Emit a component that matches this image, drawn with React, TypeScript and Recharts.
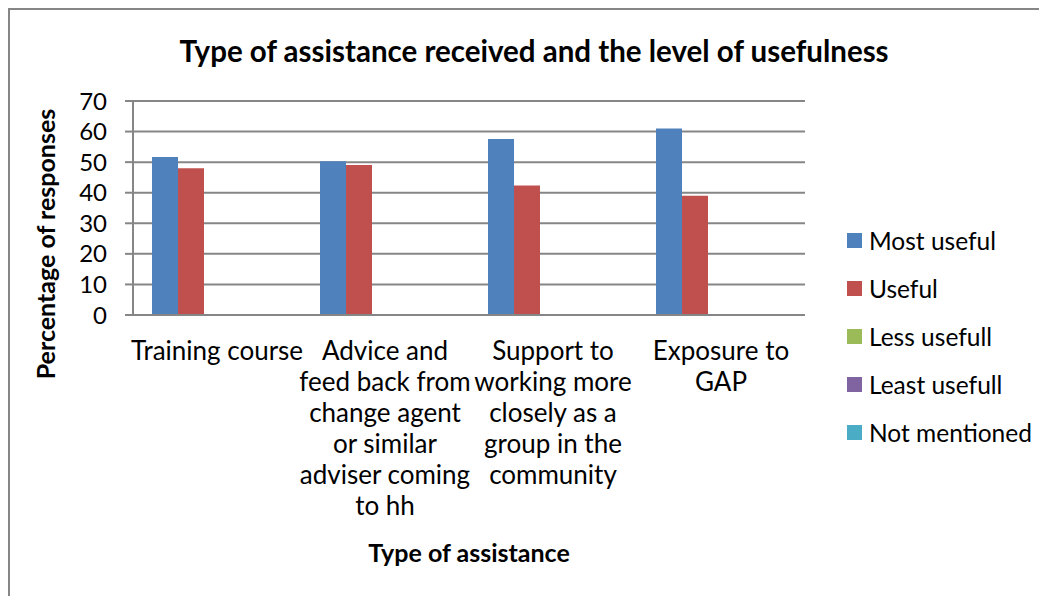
import * as React from 'react';
import {
    BarChart, Bar, XAxis, YAxis, CartesianGrid, Legend, Label,
} from 'recharts';

const FONT = 'Lato, "Open Sans", sans-serif';
const GRID = '#868686';

const categories = [
    'Training course',
    'Advice and feed back from change agent or similar adviser coming to hh',
    'Support to working more closely as a group in the community',
    'Exposure to GAP',
];

// how each category label wraps under the axis
const tickLines = [
    ['Training course'],
    ['Advice and', 'feed back from', 'change agent', 'or similar', 'adviser coming', 'to hh'],
    ['Support to', 'working more', 'closely as a', 'group in the', 'community'],
    ['Exposure to', 'GAP'],
];

const seriesNames = ['Most useful', 'Useful', 'Less usefull', 'Least usefull', 'Not mentioned'];
const seriesColors = ['#4F81BD', '#C0504D', '#9BBB59', '#8064A2', '#4BACC6'];

const mostUseful = [51.7, 50.3, 57.6, 61.0];
const useful = [48.0, 49.1, 42.4, 39.0];
const lessUsefull = [0, 0.3, 0, 0];
const leastUsefull = [0, 0.3, 0, 0];
const notMentioned = [0.3, 0, 0, 0];

const yTicks = [0, 10, 20, 30, 40, 50, 60, 70];

const data = categories.map((name, i) => ({
    name,
    s0: mostUseful[i],
    s1: useful[i],
    s2: lessUsefull[i],
    s3: leastUsefull[i],
    s4: notMentioned[i],
}));

const CategoryTick = (props: any) => {
    const { x, y, index } = props;
    const lines = tickLines[index] || [];
    return (
        <text x={x} y={y} textAnchor='middle' fill='#000' fontSize={26} fontFamily={FONT}>
            {lines.map((l, i) => (
                <tspan key={i} x={x} dy={i === 0 ? 45 : 31}>{l}</tspan>
            ))}
        </text>
    );
};

const LegendBox = () => (
    <div style={{ fontFamily: FONT, fontSize: 24.5, color: '#000' }}>
        {seriesNames.map((n, i) => (
            <div key={n} style={{ display: 'flex', alignItems: 'center', height: 48 }}>
                <span style={{ width: 15, height: 15, background: seriesColors[i], marginRight: 7, display: 'inline-block' }} />
                <span>{n}</span>
            </div>
        ))}
    </div>
);

export default function App() {
    return (
        <div style={{
            width: 1039, height: 588, boxSizing: 'border-box',
            borderTop: `2px solid ${GRID}`, borderLeft: `2px solid ${GRID}`, background: '#fff',
        }}>
            <BarChart
                width={1037}
                height={586}
                data={data}
                margin={{ top: 91, right: 242, left: 0, bottom: 21 }}
                barCategoryGap={19}
                barGap={0}
            >
                <text x={524} y={40} textAnchor='middle' dominantBaseline='central'
                    fontFamily={FONT} fontWeight='bold' fontSize={29.5} fill='#000'>
                    Type of assistance received and the level of usefulness
                </text>
                <CartesianGrid vertical={false} stroke={GRID} strokeWidth={2} />
                <XAxis
                    dataKey='name'
                    height={260}
                    interval={0}
                    tick={<CategoryTick />}
                    tickLine={false}
                    tickSize={0}
                    tickMargin={0}
                    axisLine={{ stroke: GRID, strokeWidth: 2 }}
                >
                    <Label
                        content={() => (
                            <text x={459} y={542} textAnchor='middle' dominantBaseline='central'
                                fontFamily={FONT} fontWeight='bold' fontSize={25} fill='#000'>
                                Type of assistance
                            </text>
                        )}
                    />
                </XAxis>
                <YAxis
                    width={123}
                    domain={[0, 70]}
                    ticks={yTicks}
                    interval={0}
                    tickSize={8}
                    tickMargin={18}
                    tick={{ fontSize: 24, fontFamily: FONT, fill: '#000' }}
                    tickLine={{ stroke: GRID, strokeWidth: 2 }}
                    axisLine={{ stroke: GRID, strokeWidth: 2 }}
                >
                    <Label
                        content={() => (
                            <text x={35} y={234} textAnchor='middle' dominantBaseline='central'
                                transform='rotate(-90 35 234)'
                                fontFamily={FONT} fontWeight='bold' fontSize={25} fill='#000'>
                                Percentage of responses
                            </text>
                        )}
                    />
                </YAxis>
                <Legend
                    layout='vertical'
                    align='center'
                    verticalAlign='middle'
                    content={<LegendBox />}
                    wrapperStyle={{ left: 837, top: 206, width: 200 }}
                />
                {seriesNames.map((n, i) => (
                    <Bar key={n} dataKey={`s${i}`} name={n} fill={seriesColors[i]} isAnimationActive={false} />
                ))}
            </BarChart>
        </div>
    );
}
